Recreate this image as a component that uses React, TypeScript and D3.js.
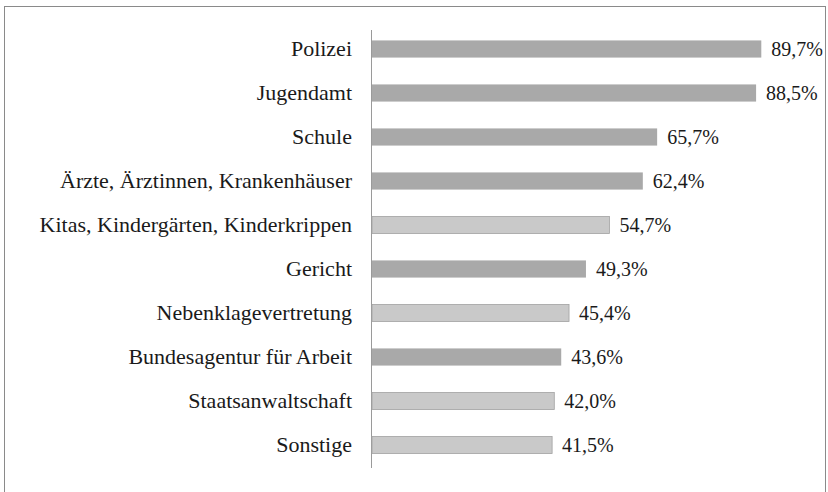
import React from 'react';
import * as d3 from 'd3';

// Categories top to bottom, values in percent
const categories = [
  'Polizei',
  'Jugendamt',
  'Schule',
  'Ärzte, Ärztinnen, Krankenhäuser',
  'Kitas, Kindergärten, Kinderkrippen',
  'Gericht',
  'Nebenklagevertretung',
  'Bundesagentur für Arbeit',
  'Staatsanwaltschaft',
  'Sonstige',
];
const values = [89.7, 88.5, 65.7, 62.4, 54.7, 49.3, 45.4, 43.6, 42.0, 41.5];
const lightRows = ['Kitas, Kindergärten, Kinderkrippen', 'Nebenklagevertretung', 'Staatsanwaltschaft', 'Sonstige'];

const W = 828;
const H = 492;
const FONT = '"Liberation Serif", Tinos, "DejaVu Serif", serif';
const fmt = (v: number) => v.toFixed(1).replace('.', ',') + '%';

const App = () => {
  const x = d3.scaleLinear().domain([0, 100]).range([372, 806]);
  const y = d3.scaleBand().domain(categories).range([27, 467]).paddingInner(0.61).paddingOuter(0.305);

  return (
    <svg width={W} height={H} style={{ position: 'absolute', left: 0, top: 0, background: '#fff' }}>
      <rect x={4.5} y={6.5} width={821} height={H} fill="#fff" stroke="#8a8a8a" strokeWidth={1} />
      <line x1={371.5} x2={371.5} y1={30} y2={468} stroke="#9a9a9a" strokeWidth={1} />
      {categories.map((c, i) => {
        const light = lightRows.includes(c);
        const yc = (y(c) ?? 0) + y.bandwidth() / 2;
        return (
          <g key={c}>
            <rect
              x={x(0)}
              y={y(c)}
              width={x(values[i]) - x(0)}
              height={y.bandwidth()}
              fill={light ? '#c9c9c9' : '#a9a9a9'}
              stroke={light ? '#a2a2a2' : 'none'}
              strokeWidth={0.8}
            />
            <text x={352} y={yc} dy="0.33em" textAnchor="end" style={{ fontFamily: FONT, fontSize: 22 }} fill="#1a1a1a">
              {c}
            </text>
            <text x={x(values[i]) + 10} y={yc} dy="0.33em" style={{ fontFamily: FONT, fontSize: 20 }} fill="#1a1a1a">
              {fmt(values[i])}
            </text>
          </g>
        );
      })}
    </svg>
  );
};

export default App;
